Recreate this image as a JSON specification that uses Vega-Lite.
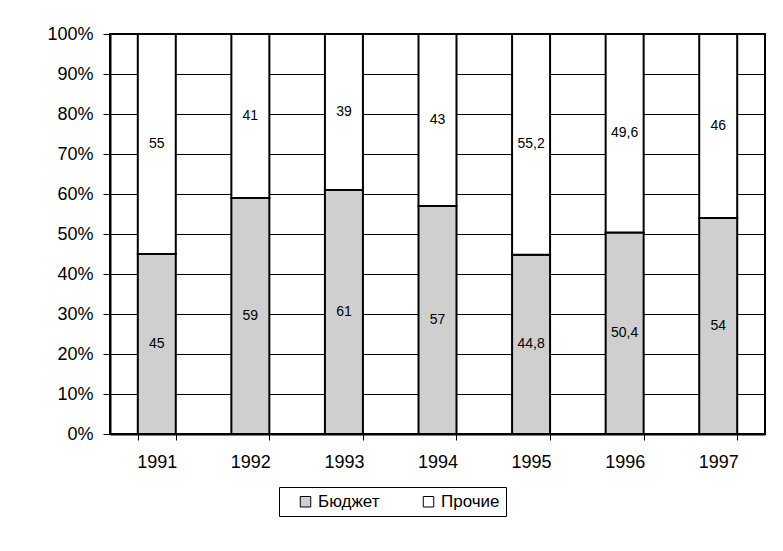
{
  "$schema": "https://vega.github.io/schema/vega-lite/v6.json",
  "width": 655,
  "height": 400,
  "autosize": {"type": "none"},
  "padding": {"left": 110, "top": 34, "right": 18, "bottom": 117},
  "background": "white",
  "config": {
    "font": "Liberation Sans",
    "view": {"stroke": "black", "strokeWidth": 2},
    "axis": {
      "domainColor": "black",
      "domainWidth": 2,
      "tickColor": "black",
      "tickWidth": 1,
      "labelColor": "black",
      "labelFont": "Liberation Sans",
      "labelFontSize": 18,
      "title": null
    }
  },
  "data": {
    "values": [
      {"year": "1991", "cat": "Бюджет", "value": 45, "label": "45"},
      {"year": "1991", "cat": "Прочие", "value": 55, "label": "55"},
      {"year": "1992", "cat": "Бюджет", "value": 59, "label": "59"},
      {"year": "1992", "cat": "Прочие", "value": 41, "label": "41"},
      {"year": "1993", "cat": "Бюджет", "value": 61, "label": "61"},
      {"year": "1993", "cat": "Прочие", "value": 39, "label": "39"},
      {"year": "1994", "cat": "Бюджет", "value": 57, "label": "57"},
      {"year": "1994", "cat": "Прочие", "value": 43, "label": "43"},
      {"year": "1995", "cat": "Бюджет", "value": 44.8, "label": "44,8"},
      {"year": "1995", "cat": "Прочие", "value": 55.2, "label": "55,2"},
      {"year": "1996", "cat": "Бюджет", "value": 50.4, "label": "50,4"},
      {"year": "1996", "cat": "Прочие", "value": 49.6, "label": "49,6"},
      {"year": "1997", "cat": "Бюджет", "value": 54, "label": "54"},
      {"year": "1997", "cat": "Прочие", "value": 46, "label": "46"}
    ]
  },
  "layer": [
    {
      "mark": {"type": "bar", "stroke": "black", "strokeWidth": 2},
      "encoding": {
        "x": {
          "field": "year",
          "type": "nominal",
          "scale": {"paddingInner": 0.594, "paddingOuter": 0.297},
          "axis": {
            "labelAngle": 0,
            "tickBand": "extent",
            "tickSize": 6,
            "labelPadding": 13,
            "grid": false
          }
        },
        "y": {
          "field": "value",
          "type": "quantitative",
          "stack": "zero",
          "scale": {"domain": [0, 100], "nice": false},
          "axis": {
            "tickCount": 10,
            "labelOverlap": false,
            "labelExpr": "datum.value + '%'",
            "tickSize": 7,
            "labelPadding": 10,
            "grid": true,
            "gridColor": "black",
            "gridWidth": 1,
            "gridOpacity": 1
          }
        },
        "order": {"field": "cat", "sort": "ascending"},
        "color": {
          "field": "cat",
          "type": "nominal",
          "scale": {"domain": ["Бюджет", "Прочие"], "range": ["#cfcfcf", "#ffffff"]},
          "legend": {
            "orient": "none",
            "legendX": 169,
            "legendY": 453,
            "direction": "horizontal",
            "title": null,
            "symbolType": "square",
            "symbolSize": 110,
            "symbolStrokeColor": "black",
            "symbolStrokeWidth": 1,
            "symbolOpacity": 1,
            "symbolOffset": 12,
            "labelFontSize": 17,
            "labelColor": "black",
            "labelFont": "Liberation Sans",
            "columnPadding": 28,
            "strokeColor": "black",
            "fillColor": "white",
            "padding": 6
          }
        }
      }
    },
    {
      "transform": [
        {"stack": "value", "groupby": ["year"], "sort": [{"field": "cat"}], "as": ["v0", "v1"]},
        {"calculate": "(datum.v0 + datum.v1) / 2", "as": "mid"}
      ],
      "mark": {"type": "text", "fontSize": 14, "font": "Liberation Sans", "color": "black", "baseline": "middle"},
      "encoding": {
        "x": {"field": "year", "type": "nominal"},
        "y": {"field": "mid", "type": "quantitative"},
        "text": {"field": "label"}
      }
    }
  ]
}
